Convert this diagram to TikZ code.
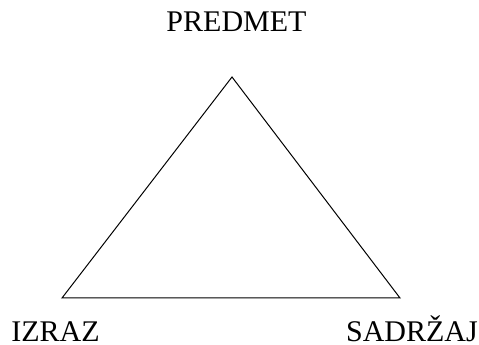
\documentclass[tikz,border=0pt]{standalone}
\usepackage{fontspec}
\setmainfont{Liberation Serif}
\usepackage{tikz}
\usetikzlibrary{positioning,calc}

\begin{document}
\begin{tikzpicture}[
      x=1pt, y=1pt,
      every node/.style={font=\fontsize{30}{36}\selectfont},
      lbl/.style={anchor=base, inner sep=0pt},
      ed/.style={black, line width=1pt, line join=miter}
    ]
    \useasboundingbox (0,0) rectangle (479,345);
    % corners of the triangle
    \coordinate (top) at (232,268);
    \coordinate (left) at (62,47);
    \coordinate (right) at (400,47);
    % labels
    \node[lbl] (predmet) at (236.5,313) {PREDMET};
    \node[lbl] (izraz) at (55.5,3.5) {IZRAZ};
    \node[lbl] (sadrzaj) at (412,3.5) {SADRŽAJ};
    % edges
    \draw[ed] (top) -- (left) -- (right) -- cycle;
  \end{tikzpicture}
\end{document}
